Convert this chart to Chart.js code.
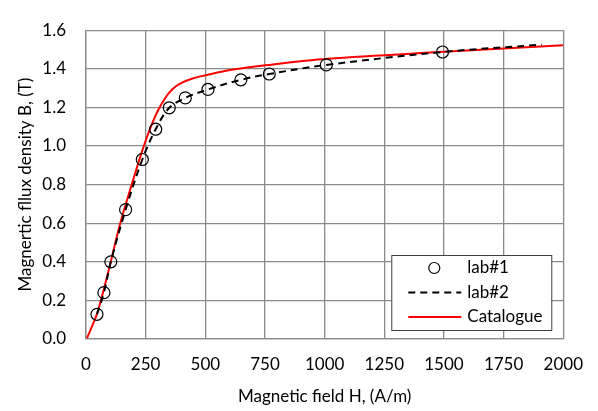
<!DOCTYPE html>
<html>
<head>
<meta charset="utf-8">
<script src="https://cdn.jsdelivr.net/npm/chart.js@4"></script>
<style>
	html, body { margin: 0; padding: 0; background: #fff; }
	#wrap { width: 598px; height: 411px; }
</style>
</head>
<body>
<div id="wrap"><canvas id="myChart"></canvas></div>
<script>
// lab#1 measured points (circles)
const lab1H = [46, 75, 104, 166, 236, 292, 349, 416, 511, 649, 768, 1007, 1494];
const lab1B = [0.128, 0.24, 0.40, 0.67, 0.93, 1.087, 1.198, 1.249, 1.293, 1.343, 1.373, 1.42, 1.487];
// lab#2 dashed curve
const lab2H = [46, 75, 104, 166, 236, 292, 349, 416, 511, 649, 768, 1007, 1494, 1910];
const lab2B = [0.128, 0.24, 0.40, 0.67, 0.93, 1.087, 1.198, 1.249, 1.293, 1.343, 1.373, 1.42, 1.487, 1.525];
// catalogue curve
const catH = [4, 20, 46, 71, 104, 141, 196, 231, 266, 300, 335, 362, 392, 446, 515, 598, 752, 1013, 1500, 2000];
const catB = [0.005, 0.05, 0.13, 0.24, 0.40, 0.588, 0.818, 0.958, 1.081, 1.18, 1.254, 1.294, 1.322, 1.35, 1.37, 1.392, 1.418, 1.452, 1.488, 1.522];

const xTicks = [0, 250, 500, 750, 1000, 1250, 1500, 1750, 2000];
const yTicks = [0, 0.2, 0.4, 0.6, 0.8, 1.0, 1.2, 1.4, 1.6];

const toXY = (xs, ys) => xs.map((x, i) => ({x: x, y: ys[i]}));
const fontFamily = "Lato, 'Open Sans', sans-serif";
const gridColor = '#8a8a8a';

// legend box drawn inside the plot, bottom right
const boxLegend = {
	id: 'boxLegend',
	afterDraw(chart) {
		const ctx = chart.ctx;
		const a = chart.chartArea;
		const x0 = a.right - 172, y0 = a.bottom - 84, w = 160, h = 75;
		ctx.save();
		ctx.fillStyle = '#fff';
		ctx.fillRect(x0, y0, w, h);
		ctx.strokeStyle = '#404040';
		ctx.lineWidth = 1;
		ctx.strokeRect(x0 + 0.5, y0 + 0.5, w, h);
		ctx.font = '17px ' + fontFamily;
		ctx.fillStyle = '#000';
		ctx.textBaseline = 'middle';
		chart.data.datasets.forEach((ds, i) => {
			const cy = y0 + 13 + i * 24.5;
			if (ds.showLine === false) {
				ctx.beginPath();
				ctx.arc(x0 + 43, cy, 5.5, 0, Math.PI * 2);
				ctx.strokeStyle = ds.pointBorderColor;
				ctx.lineWidth = 1.2;
				ctx.stroke();
			} else {
				ctx.beginPath();
				ctx.setLineDash(ds.borderDash || []);
				ctx.moveTo(x0 + 17, cy);
				ctx.lineTo(x0 + 70, cy);
				ctx.strokeStyle = ds.borderColor;
				ctx.lineWidth = ds.borderWidth;
				ctx.stroke();
				ctx.setLineDash([]);
			}
			ctx.fillText(ds.label, x0 + 76, cy);
		});
		ctx.restore();
	}
};

new Chart(document.getElementById('myChart').getContext('2d'), {
	type: 'scatter',
	data: {
		datasets: [{
			label: 'lab#1',
			data: toXY(lab1H, lab1B),
			showLine: false,
			pointStyle: 'circle',
			pointRadius: 6,
			pointBorderWidth: 1.2,
			pointBorderColor: '#000',
			pointBackgroundColor: 'rgba(0,0,0,0)'
		}, {
			label: 'lab#2',
			data: toXY(lab2H, lab2B),
			showLine: true,
			borderColor: '#000',
			borderWidth: 2,
			borderDash: [7, 5],
			pointRadius: 0,
			tension: 0.35
		}, {
			label: 'Catalogue',
			data: toXY(catH, catB),
			showLine: true,
			borderColor: '#ff0000',
			borderWidth: 2,
			pointRadius: 0,
			tension: 0.35
		}]
	},
	options: {
		responsive: true,
		maintainAspectRatio: false,
		animation: false,
		layout: { padding: { top: 15, right: 30, left: 0, bottom: 0 } },
		plugins: {
			legend: { display: false },
			tooltip: { enabled: false }
		},
		scales: {
			x: {
				type: 'linear',
				min: 0,
				max: 2000,
				afterFit: s => { s.height = 72; },
				afterBuildTicks: s => { s.ticks = xTicks.map(v => ({value: v})); },
				grid: { color: gridColor, lineWidth: 1.3, drawTicks: false },
				border: { color: gridColor, width: 1.3 },
				ticks: { color: '#000', padding: 15, font: { family: fontFamily, size: 17 }, maxRotation: 0, callback: v => String(v) },
				title: { display: true, text: 'Magnetic field H, (A/m)', color: '#000', font: { family: fontFamily, size: 17 }, padding: { bottom: 4 } }
			},
			y: {
				min: 0,
				max: 1.6,
				afterFit: s => { s.width = 86; },
				afterBuildTicks: s => { s.ticks = yTicks.map(v => ({value: v})); },
				grid: { color: gridColor, lineWidth: 1.3, drawTicks: false },
				border: { color: gridColor, width: 1.3 },
				ticks: { color: '#000', padding: 20, font: { family: fontFamily, size: 17 }, callback: v => v.toFixed(1) },
				title: { display: true, text: 'Magnertic fllux density B, (T)', color: '#000', font: { family: fontFamily, size: 17 }, padding: { top: 15 } }
			}
		}
	},
	plugins: [boxLegend]
});
</script>
</body>
</html>
